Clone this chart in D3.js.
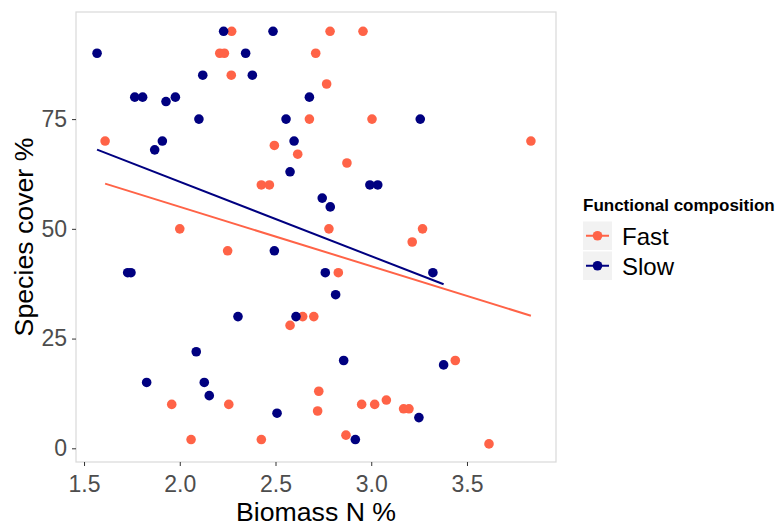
<!DOCTYPE html>
<html>
<head>
<meta charset="utf-8">
<script src="https://cdn.jsdelivr.net/npm/d3@7"></script>
<style>
  body { margin: 0; background: #fff; }
  svg { font-family: "Liberation Sans", Arial, sans-serif; }
</style>
</head>
<body>
<svg></svg>
<script>
const size = {w: 779, h: 526};
const panel = {l: 76, r: 556, t: 12, b: 462};

// Fast group: biomass N % and species cover %
const fastN = [2.271, 2.209, 2.233, 2.71, 2.269, 2.677, 1.61, 2.494, 2.616, 2.785,
    2.957, 2.767, 3.004, 3.834, 2.873, 2.426, 2.468, 2.0, 2.25, 2.779,
    3.268, 3.214, 2.828, 2.642, 2.70, 2.576, 1.958, 2.256, 2.059, 2.426,
    2.726, 2.72, 3.439, 2.95, 3.018, 3.079, 3.169, 3.197, 2.868, 3.615];
const fastCover = [95, 90, 90, 90, 85, 75, 70, 69, 67, 95,
    95, 83, 75, 70, 65, 60, 60, 50, 45, 50,
    50, 47, 40, 30, 30, 28, 10, 10, 2, 2,
    13, 8.5, 20, 10, 10, 11, 9, 9, 3, 1];

// Slow group
const slowN = [1.568, 2.229, 2.487, 2.344, 2.12, 2.379, 1.765, 1.806, 1.928, 1.977,
    2.677, 2.1, 2.555, 1.909, 1.869, 2.597, 3.256, 2.576, 2.494, 1.728,
    1.745, 2.304, 2.607, 2.993, 3.034, 2.744, 2.786, 2.76, 3.322, 2.814,
    2.086, 1.827, 2.128, 2.154, 2.508, 2.856, 3.378, 3.249, 2.917];
const slowCover = [90, 95, 95, 90, 85, 85, 80, 80, 79, 80,
    80, 75, 75, 70, 68, 70, 75, 63, 45, 40,
    40, 30, 30, 60, 60, 57, 55, 40, 40, 35,
    22, 15, 15, 12, 8, 20, 19, 7, 2];

const groups = ['Fast', 'Slow'];
const colors = ['#FF6347', '#000080'];
const xTicks = [1.5, 2.0, 2.5, 3.0, 3.5];
const yTicks = [0, 25, 50, 75];

const svg = d3.select('svg')
    .attr('width', size.w)
    .attr('height', size.h);

const x = d3.scaleLinear().domain([1.458, 3.965]).range([panel.l, panel.r]);
const y = d3.scaleLinear().domain([-3.12, 99.4]).range([panel.b, panel.t]);
const color = d3.scaleOrdinal().domain(groups).range(colors);

// simple least squares fit, like geom_smooth(method = 'lm')
function fit(xs, ys) {
    let mx = d3.mean(xs), my = d3.mean(ys);
    let sxy = d3.sum(xs, (v, i) => (v - mx) * (ys[i] - my));
    let sxx = d3.sum(xs, v => (v - mx) * (v - mx));
    let b = sxy / sxx, a = my - b * mx;
    let ext = d3.extent(xs);
    return ext.map(v => [v, a + b * v]);
}

const series = [
    {name: 'Fast', xs: fastN, ys: fastCover},
    {name: 'Slow', xs: slowN, ys: slowCover}
];

let g = svg.append('g');

series.forEach(function (s) {
    g.selectAll(null)
        .data(s.xs.map((v, i) => [v, s.ys[i]]))
        .enter()
        .append('circle')
        .attr('cx', d => x(d[0]))
        .attr('cy', d => y(d[1]))
        .attr('r', 4.8)
        .attr('fill', color(s.name));
});

series.forEach(function (s) {
    g.append('path')
        .datum(fit(s.xs, s.ys))
        .attr('d', d3.line().x(d => x(d[0])).y(d => y(d[1])))
        .attr('fill', 'none')
        .attr('stroke', color(s.name))
        .attr('stroke-width', 2);
});

svg.append('rect')
    .attr('x', panel.l).attr('y', panel.t)
    .attr('width', panel.r - panel.l).attr('height', panel.b - panel.t)
    .attr('fill', 'none')
    .attr('stroke', '#d9d9d9')
    .attr('stroke-width', 1.2);

// axes
let xAxis = svg.append('g')
    .attr('transform', 'translate(0,' + panel.b + ')')
    .call(d3.axisBottom(x).tickValues(xTicks).tickFormat(d3.format('.1f')).tickSizeOuter(0).tickSize(4).tickPadding(10));
let yAxis = svg.append('g')
    .attr('transform', 'translate(' + panel.l + ',0)')
    .call(d3.axisLeft(y).tickValues(yTicks).tickSizeOuter(0).tickSize(4).tickPadding(5));

[xAxis, yAxis].forEach(function (ax) {
    ax.select('.domain').remove();
    ax.selectAll('.tick line').attr('stroke', '#333').attr('stroke-width', 1);
    ax.selectAll('.tick text')
        .attr('fill', '#4d4d4d')
        .style('font-size', '23px')
        .style('font-family', '"Liberation Sans", Arial, sans-serif');
});

svg.append('text')
    .attr('x', (panel.l + panel.r) / 2)
    .attr('y', 521)
    .attr('text-anchor', 'middle')
    .style('font-size', '26.7px')
    .text('Biomass N %');

svg.append('text')
    .attr('transform', 'translate(33,' + (panel.t + panel.b) / 2 + ') rotate(-90)')
    .attr('text-anchor', 'middle')
    .style('font-size', '26.7px')
    .text('Species cover %');

// legend
let legend = svg.append('g').attr('transform', 'translate(583,0)');
legend.append('text')
    .attr('x', 0).attr('y', 211)
    .style('font-size', '17px')
    .style('font-weight', 'bold')
    .text('Functional composition');

let keys = legend.selectAll('g.key')
    .data(groups)
    .enter()
    .append('g')
    .attr('class', 'key')
    .attr('transform', (d, i) => 'translate(0,' + (221.5 + i * 30) + ')');

keys.append('rect')
    .attr('width', 29).attr('height', 28.5)
    .attr('fill', '#f2f2f2');
keys.append('line')
    .attr('x1', 3).attr('x2', 26)
    .attr('y1', 14.25).attr('y2', 14.25)
    .attr('stroke', d => color(d))
    .attr('stroke-width', 2);
keys.append('circle')
    .attr('cx', 14.5).attr('cy', 14.25)
    .attr('r', 4.8)
    .attr('fill', d => color(d));
keys.append('text')
    .attr('x', 39).attr('y', 23)
    .style('font-size', '24px')
    .text(d => d);
</script>
</body>
</html>
